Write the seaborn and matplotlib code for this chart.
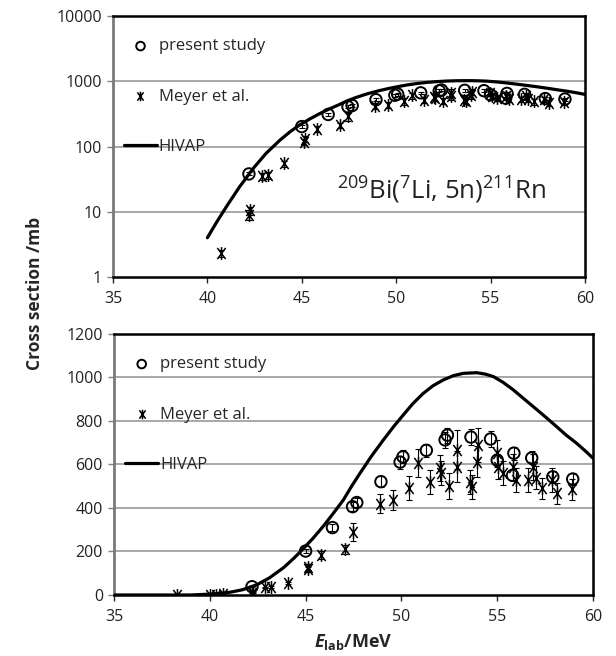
import matplotlib
matplotlib.use("Agg")
import matplotlib.pyplot as plt
from matplotlib.path import Path
from matplotlib.ticker import FixedLocator, FixedFormatter, NullLocator
import seaborn as sns

# present study (circles)
present_e = [42.2, 45.0, 46.4, 47.45, 47.67, 48.93, 49.93, 50.08, 51.3, 52.28,
             52.4, 53.63, 54.65, 55.0, 55.87, 55.8, 56.8, 57.9, 58.94]
present_xs = [38, 202, 310, 406, 425, 521, 611, 635, 665, 713,
              735, 726, 717, 620, 652, 550, 630, 543, 533]
present_err = [2, 10, 15, 20, 20, 25, 30, 30, 30, 35,
               35, 35, 35, 30, 30, 27, 30, 27, 27]

# Meyer et al. (asterisks)
meyer_e = [38.3, 40.0, 40.3, 40.7, 42.2, 42.25, 42.9, 43.2, 44.07, 45.1,
           45.15, 45.81, 47.03, 47.45, 48.86, 49.56, 50.41, 50.86, 51.49, 52.01,
           52.05, 52.5, 52.88, 52.9, 53.58, 53.7, 53.96, 54.01, 54.97, 55.06,
           55.32, 55.84, 55.98, 56.62, 56.88, 57.0, 57.32, 57.84, 58.1, 58.89]
meyer_xs = [0.5, 0.6, 0.8, 2.3, 9.0, 10.5, 35, 36, 55, 118,
            130, 185, 210, 290, 420, 436, 490, 606, 521, 582,
            560, 501, 667, 590, 521, 498, 613, 690, 652, 590,
            560, 590, 529, 529, 590, 540, 490, 529, 467, 485]
meyer_err = [0.1, 0.1, 0.1, 0.3, 1.5, 1.5, 4, 4, 6, 12,
             13, 18, 20, 40, 45, 45, 55, 65, 55, 60,
             55, 60, 90, 70, 55, 55, 70, 80, 60, 55,
             55, 60, 55, 55, 60, 55, 50, 55, 50, 50]

# HIVAP calculation (line)
hivap_e = [35, 37, 39, 40.0, 40.5, 41.05, 41.7, 42.45, 43.1, 43.84, 44.4, 44.88,
           45.4, 45.92, 46.45, 46.97, 47.4, 47.84, 48.45, 49.06, 49.6, 50.1,
           50.6, 51.14, 51.65, 52.19, 52.7, 53.23, 53.93, 54.4, 54.8, 55.3,
           55.84, 56.35, 56.88, 57.5, 58.1, 58.6, 59.15, 59.6, 60.0]
hivap_xs = [0, 0, 0, 4, 7, 12.5, 24, 47, 78, 125, 170, 213,
            262, 316, 376, 437, 500, 560, 640, 713, 775, 828,
            880, 927, 962, 989, 1008, 1019, 1022, 1015, 1004, 978,
            943, 905, 866, 820, 774, 735, 697, 662, 629]

x_ticks = [35, 40, 45, 50, 55, 60]
log_ticks = [1, 10, 100, 1000, 10000]
log_labels = ["1", "10", "100", "1000", "10000"]
lin_ticks = [0, 200, 400, 600, 800, 1000, 1200]

sns.set_style("ticks")
plt.rcParams["font.family"] = ["Open Sans", "DejaVu Sans"]
plt.rcParams["mathtext.fontset"] = "custom"
plt.rcParams["mathtext.rm"] = "Open Sans"
plt.rcParams["mathtext.it"] = "Open Sans:italic"
plt.rcParams["mathtext.bf"] = "Open Sans:bold"
plt.rcParams["mathtext.bfit"] = "Open Sans:italic:bold"
plt.rcParams["mathtext.default"] = "regular"

# Excel-like star marker: an X with a vertical stroke
star = Path([(-0.75, -1), (0.75, 1), (-0.75, 1), (0.75, -1), (0, -1.15), (0, 1.15)],
            [Path.MOVETO, Path.LINETO, Path.MOVETO, Path.LINETO, Path.MOVETO, Path.LINETO])

fig = plt.figure(figsize=(6.16, 6.56), dpi=100)
ax_top = fig.add_axes([0.1834, 0.5777, 0.7662, 0.3979])
ax_bot = fig.add_axes([0.1851, 0.0930, 0.7776, 0.3979])


def draw_panel(ax, log):
    if log:
        ax.set_yscale("log", nonpositive="mask")
    ax.errorbar(meyer_e, meyer_xs, yerr=meyer_err, fmt="none", ecolor="black",
                elinewidth=0.8, capsize=2.5, capthick=0.8, zorder=3)
    ax.errorbar(present_e, present_xs, yerr=present_err, fmt="none", ecolor="black",
                elinewidth=0.8, capsize=2.0, capthick=0.8, zorder=3)
    sns.scatterplot(x=present_e, y=present_xs, ax=ax, marker="o", s=68,
                    facecolor="none", edgecolor="black", linewidth=1.4,
                    label="present study", zorder=4)
    sns.scatterplot(x=meyer_e, y=meyer_xs, ax=ax, marker=star, s=85,
                    color="black", edgecolor="black", linewidth=1.1,
                    label="Meyer et al.", zorder=4)
    sns.lineplot(x=hivap_e, y=hivap_xs, ax=ax, color="black", linewidth=2.3,
                 label="HIVAP", zorder=5, sort=False)

    ax.set_xlim(35, 60)
    ax.xaxis.set_major_locator(FixedLocator(x_ticks))
    if log:
        ax.set_ylim(1, 10000)
        ax.yaxis.set_major_locator(FixedLocator(log_ticks))
        ax.yaxis.set_major_formatter(FixedFormatter(log_labels))
        ax.yaxis.set_minor_locator(NullLocator())
        grid_at = log_ticks[1:-1]
    else:
        ax.set_ylim(0, 1200)
        ax.yaxis.set_major_locator(FixedLocator(lin_ticks))
        grid_at = lin_ticks[1:-1]
    for g in grid_at:
        ax.axhline(g, color="#9a9a9a", linewidth=1.2, zorder=1)

    ax.set_xlabel("")
    ax.set_ylabel("")
    ax.tick_params(axis="both", labelsize=11.5, colors="#222222", length=4,
                   width=1.0, direction="out", pad=4)
    ax.tick_params(axis="x", pad=6)
    ax.tick_params(axis="y", color="#808080")
    for side in ["top", "right", "bottom"]:
        ax.spines[side].set_visible(True)
        ax.spines[side].set_color("black")
        ax.spines[side].set_linewidth(1.8)
    ax.spines["left"].set_color("#7a7a7a")
    ax.spines["left"].set_linewidth(2.0)

    handles, labels = ax.get_legend_handles_labels()
    hmap = dict(zip(labels, handles))
    order = ["present study", "Meyer et al.", "HIVAP"]
    ax.legend([hmap[k] for k in order], order, loc="upper left", frameon=False,
              bbox_to_anchor=(0.023, 0.914), borderaxespad=0, borderpad=0,
              fontsize=12, labelspacing=2.05, handlelength=2.0, handletextpad=0.1,
              markerscale=0.75)


draw_panel(ax_top, True)
draw_panel(ax_bot, False)

ax_top.text(52.4, 21, r"$^{209}$Bi($^{7}$Li, 5n)$^{211}$Rn", fontsize=18.5,
            ha="center", va="center", color="#222222")

ax_bot.set_xlabel(r"$\mathbfit{E}_{\mathbf{lab}}$/MeV", fontsize=13,
                  fontweight="bold", labelpad=5)
fig.text(0.057, 0.553, "Cross section /mb", rotation=90, fontsize=12.5,
         fontweight="bold", ha="center", va="center")

plt.savefig("out.png", dpi=100)
plt.close()
